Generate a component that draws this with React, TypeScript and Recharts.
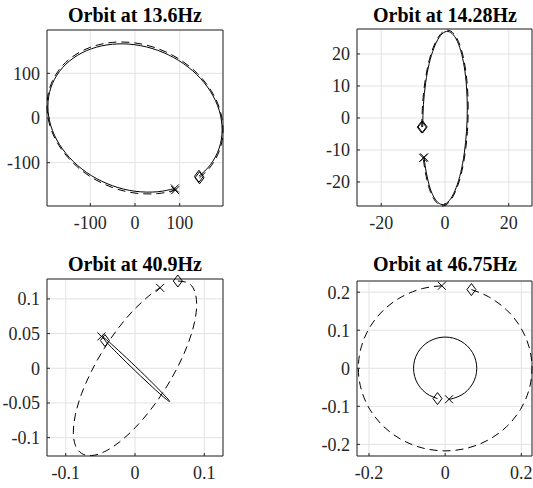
import React from "react";
import { ScatterChart, Scatter, XAxis, YAxis, CartesianGrid } from "recharts";

type Pair = [number, number];

const FONT = "'Liberation Serif', 'Times New Roman', serif";
const INK = "#262626";

const titles = ["Orbit at 13.6Hz", "Orbit at 14.28Hz", "Orbit at 40.9Hz", "Orbit at 46.75Hz"];

// 13.6 Hz
const orbit1Solid: Pair[] = [
  [143.1, -130.5], [168.9, -104.5], [188.4, -67.5], [195, -26], [188.4, 17.4], [168.9, 59.5],
  [137.9, 97.6], [97.5, 129], [50.5, 151.6], [0, 164], [-50.5, 165.1], [-97.5, 155],
  [-137.9, 134.3], [-168.9, 104.5], [-188.4, 67.5], [-195, 26], [-188.4, -17.4], [-168.9, -59.5],
  [-137.9, -97.6], [-97.5, -129], [-50.5, -151.6], [0, -164], [50.5, -165.1], [89.1, -157.7],
];
const orbit1Dashed: Pair[] = [
  [144.5, -133.8], [170.6, -107.1], [190.3, -69.2], [197, -26.7], [190.3, 17.8], [170.6, 61],
  [139.3, 100], [98.5, 132.2], [51, 155.4], [0, 168.1], [-51, 169.2], [-98.5, 158.9],
  [-139.3, 137.7], [-170.6, 107.1], [-190.3, 69.2], [-197, 26.7], [-190.3, -17.8], [-170.6, -61],
  [-139.3, -100], [-98.5, -132.2], [-51, -155.4], [0, -168.1], [51, -169.2], [90, -161.6],
];

// 14.28 Hz
const orbit2Solid: Pair[] = [
  [-7, -2.8], [-6.76, 4.2], [-6.06, 11], [-4.95, 17], [-3.5, 21.8], [-1.81, 25.2], [0, 26.9],
  [1.81, 26.7], [3.5, 24.7], [4.95, 21], [6.06, 15.9], [6.76, 9.7], [7, 2.8], [6.76, -4.2],
  [6.06, -11], [4.95, -17], [3.5, -21.8], [1.81, -25.2], [0, -26.9], [-1.81, -26.7],
  [-3.5, -24.7], [-4.95, -21], [-6.06, -15.9], [-6.54, -12.3],
];
const orbit2Dashed: Pair[] = [
  [-7.28, -2.84], [-7.03, 4.26], [-6.3, 11.17], [-5.15, 17.26], [-3.64, 22.13], [-1.88, 25.58],
  [0, 27.3], [1.88, 27.1], [3.64, 25.07], [5.15, 21.32], [6.3, 16.14], [7.03, 9.85], [7.28, 2.84],
  [7.03, -4.26], [6.3, -11.17], [5.15, -17.26], [3.64, -22.13], [1.88, -25.58], [0, -27.3],
  [-1.88, -27.1], [-3.64, -25.07], [-5.15, -21.32], [-6.3, -16.14], [-6.8, -12.48],
];

// 40.9 Hz
const orbit3Solid: Pair[] = [
  [-0.0434, 0.04], [-0.0336, 0.0297], [-0.0235, 0.0195], [0.001, -0.0044], [0.0255, -0.0274],
  [0.0385, -0.0391], [0.047, -0.0462], [0.0498, -0.048], [0.0493, -0.0466], [0.0434, -0.0399],
  [0.0255, -0.0215], [0.001, 0.0024], [-0.0235, 0.0254], [-0.0365, 0.0371], [-0.045, 0.0442],
  [-0.0485, 0.0459],
];
const orbit3Dashed: Pair[] = [
  [0.0618, 0.1258], [0.0771, 0.1228], [0.086, 0.1112], [0.089, 0.0922], [0.086, 0.0668],
  [0.0771, 0.0368], [0.0629, 0.0044], [0.0445, -0.0284], [0.023, -0.0592], [0, -0.0859],
  [-0.023, -0.1068], [-0.0445, -0.1205], [-0.0629, -0.1259], [-0.0771, -0.1228], [-0.086, -0.1112],
  [-0.089, -0.0922], [-0.086, -0.0668], [-0.0771, -0.0368], [-0.0629, -0.0044], [-0.0445, 0.0284],
  [-0.023, 0.0592], [0, 0.0859], [0.023, 0.1068], [0.0362, 0.116],
];

// 46.75 Hz
const orbit4Solid: Pair[] = [
  [-0.0201, -0.0796], [-0.0415, -0.071], [-0.0587, -0.058], [-0.0719, -0.041], [-0.0802, -0.0212],
  [-0.083, 0], [-0.0802, 0.0212], [-0.0719, 0.041], [-0.0587, 0.058], [-0.0415, 0.071],
  [-0.0215, 0.0792], [0, 0.082], [0.0215, 0.0792], [0.0415, 0.071], [0.0587, 0.058],
  [0.0719, 0.041], [0.0802, 0.0212], [0.083, 0], [0.0802, -0.0212], [0.0719, -0.041],
  [0.0587, -0.058], [0.0415, -0.071], [0.0215, -0.0792], [0.0101, -0.0814],
];
const orbit4Dashed: Pair[] = [
  [0.0689, 0.2068], [0.114, 0.1879], [0.1612, 0.1534], [0.1975, 0.1085], [0.2202, 0.0562],
  [0.228, 0], [0.2202, -0.0562], [0.1975, -0.1085], [0.1612, -0.1534], [0.114, -0.1879],
  [0.059, -0.2096], [0, -0.217], [-0.059, -0.2096], [-0.114, -0.1879], [-0.1612, -0.1534],
  [-0.1975, -0.1085], [-0.2202, -0.0562], [-0.228, 0], [-0.2202, 0.0562], [-0.1975, 0.1085],
  [-0.1612, 0.1534], [-0.114, 0.1879], [-0.059, 0.2096], [-0.0088, 0.2168],
];

const ticks1X = [-100, 0, 100];
const ticks1Y = [-100, 0, 100];
const ticks2X = [-20, 0, 20];
const ticks2Y = [-20, -10, 0, 10, 20];
const ticks3X = [-0.1, 0, 0.1];
const ticks3Y = [-0.1, -0.05, 0, 0.05, 0.1];
const ticks4X = [-0.2, 0, 0.2];
const ticks4Y = [-0.2, -0.1, 0, 0.1, 0.2];

interface Panel {
  title: string;
  solid: Pair[];
  dashed: Pair[];
  xDomain: [number, number];
  yDomain: [number, number];
  xTicks: number[];
  yTicks: number[];
  left: number;
  top: number;
  width: number;
  margin: { top: number; right: number; bottom: number; left: number };
  titleX: number;
  titleY: number;
}

const panels: Panel[] = [
  {
    title: titles[0], solid: orbit1Solid, dashed: orbit1Dashed,
    xDomain: [-197, 197], yDomain: [-197, 197], xTicks: ticks1X, yTicks: ticks1Y,
    left: 0, top: 0, width: 266, margin: { top: 29, right: 42, bottom: 8, left: 7 },
    titleX: 135, titleY: 22,
  },
  {
    title: titles[1], solid: orbit2Solid, dashed: orbit2Dashed,
    xDomain: [-27.6, 27.3], yDomain: [-27.5, 27.8], xTicks: ticks2X, yTicks: ticks2Y,
    left: 266, top: 0, width: 267, margin: { top: 28, right: 0, bottom: 8, left: 51 },
    titleX: 445, titleY: 22,
  },
  {
    title: titles[2], solid: orbit3Solid, dashed: orbit3Dashed,
    xDomain: [-0.127, 0.127], yDomain: [-0.1265, 0.1287], xTicks: ticks3X, yTicks: ticks3Y,
    left: 0, top: 244, width: 266, margin: { top: 34, right: 42, bottom: 2, left: 7 },
    titleX: 135, titleY: 271,
  },
  {
    title: titles[3], solid: orbit4Solid, dashed: orbit4Dashed,
    xDomain: [-0.2315, 0.2277], yDomain: [-0.2305, 0.2293], xTicks: ticks4X, yTicks: ticks4Y,
    left: 266, top: 244, width: 267, margin: { top: 36, right: 0, bottom: 2, left: 51 },
    titleX: 445, titleY: 271,
  },
];

const toPoints = (pairs: Pair[]) => pairs.map(([x, y]) => ({ x, y }));

const noDot = () => <g />;

function Diamond(props: any) {
  const { cx, cy } = props;
  return (
    <path
      d={`M${cx},${cy - 6}L${cx + 4.5},${cy}L${cx},${cy + 6}L${cx - 4.5},${cy}Z`}
      fill="none"
      stroke="#000"
      strokeWidth={1}
    />
  );
}

function Cross(props: any) {
  const { cx, cy } = props;
  const r = 4;
  return (
    <path
      d={`M${cx - r},${cy - r}L${cx + r},${cy + r}M${cx - r},${cy + r}L${cx + r},${cy - r}`}
      fill="none"
      stroke="#000"
      strokeWidth={1}
    />
  );
}

const tickStyle = { fill: INK, fontSize: 18, fontFamily: FONT };

function OrbitPanel({ p }: { p: Panel }) {
  const solid = toPoints(p.solid);
  const dashed = toPoints(p.dashed);
  const curves = [
    { data: dashed, dash: "8 5" },
    { data: solid, dash: undefined },
  ];
  return (
    <div style={{ position: "absolute", left: p.left, top: p.top }}>
      <ScatterChart width={p.width} height={244} margin={p.margin}>
        <CartesianGrid xAxisId="b" yAxisId="l" stroke="#e2e2e2" />
        <XAxis
          xAxisId="b" type="number" dataKey="x" domain={p.xDomain} ticks={p.xTicks} interval={0}
          height={30} tickSize={-3} tickMargin={13} stroke={INK} tick={tickStyle}
          tickFormatter={(v) => String(v)}
        />
        <XAxis
          xAxisId="t" orientation="top" type="number" dataKey="x" domain={p.xDomain} ticks={p.xTicks}
          interval={0} height={1} tickSize={-3} stroke={INK} tick={false}
        />
        <YAxis
          yAxisId="l" type="number" dataKey="y" domain={p.yDomain} ticks={p.yTicks} interval={0}
          width={40} tickSize={-3} tickMargin={10} stroke={INK} tick={tickStyle}
          tickFormatter={(v) => String(v)}
        />
        <YAxis
          yAxisId="r" orientation="right" type="number" dataKey="y" domain={p.yDomain} ticks={p.yTicks}
          interval={0} width={1} tickSize={-3} stroke={INK} tick={false}
        />
        {/* keeps the mirrored top/right frame axes populated */}
        <Scatter xAxisId="t" yAxisId="r" data={solid} shape={noDot} isAnimationActive={false} />
        {curves.map((c, i) => (
          <Scatter
            key={`c${i}`}
            xAxisId="b"
            yAxisId="l"
            data={c.data}
            line={{ stroke: "#000", strokeWidth: 1, strokeDasharray: c.dash }}
            lineJointType="natural"
            shape={noDot}
            isAnimationActive={false}
          />
        ))}
        {curves.map((c, i) => (
          <Scatter
            key={`s${i}`}
            xAxisId="b"
            yAxisId="l"
            data={[c.data[0]]}
            shape={Diamond}
            isAnimationActive={false}
          />
        ))}
        {curves.map((c, i) => (
          <Scatter
            key={`e${i}`}
            xAxisId="b"
            yAxisId="l"
            data={[c.data[c.data.length - 1]]}
            shape={Cross}
            isAnimationActive={false}
          />
        ))}
      </ScatterChart>
    </div>
  );
}

export default function App() {
  return (
    <div style={{ position: "absolute", left: 0, top: 0, width: 533, height: 488, background: "#fff", overflow: "hidden" }}>
      {panels.map((p) => (
        <OrbitPanel key={p.title} p={p} />
      ))}
      <svg width={533} height={488} style={{ position: "absolute", left: 0, top: 0, pointerEvents: "none" }}>
        {panels.map((p) => (
          <text
            key={p.title}
            x={p.titleX}
            y={p.titleY}
            textAnchor="middle"
            fontFamily={FONT}
            fontWeight="bold"
            fontSize={20}
            fill="#000"
          >
            {p.title}
          </text>
        ))}
      </svg>
    </div>
  );
}
